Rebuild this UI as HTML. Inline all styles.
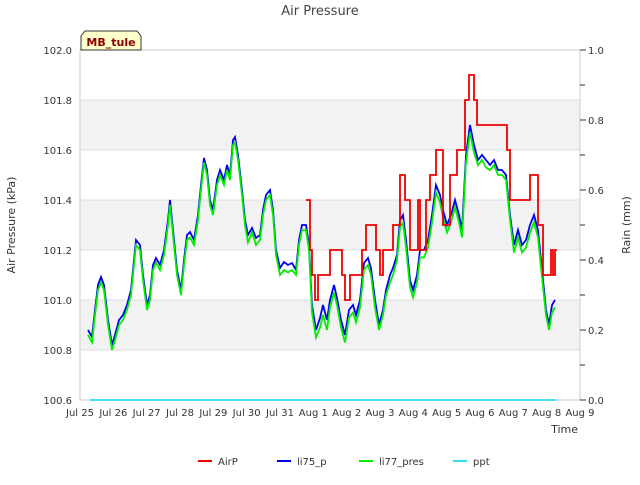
<!DOCTYPE html>
<html><head><meta charset="utf-8"><style>
body{margin:0;background:#fff;font-family:"Liberation Sans","DejaVu Sans",sans-serif;}
svg text{font-family:"DejaVu Sans","Liberation Sans",sans-serif;}
</style></head><body>
<svg id="chart" width="640" height="480" xmlns="http://www.w3.org/2000/svg">
<rect x="0" y="0" width="640" height="480" fill="#fff"/>
<g id="bands"></g>
<g id="grid"></g>
<rect x="80" y="50" width="500" height="350" fill="none" stroke="#ccc"/>
<g id="axes"></g>
<g id="series"></g>
<text x="320" y="15" text-anchor="middle" font-size="13" fill="#444">Air Pressure</text>
<text x="15" y="225" text-anchor="middle" font-size="11" fill="#333" transform="rotate(-90 15 225)">Air Pressure (kPa)</text>
<text x="630" y="225" text-anchor="middle" font-size="11" fill="#333" transform="rotate(-90 630 225)">Rain (mm)</text>
<text x="578" y="433" text-anchor="end" font-size="11" fill="#333">Time</text>
<g>
<path d="M81,50 L81,36 L85,31 L137,31 L141,36 L141,50 Z" fill="#ffffcc" stroke="#333"/>
<text x="111" y="46" text-anchor="middle" font-size="11" font-weight="bold" fill="#8b0000">MB_tule</text>
</g>
<g id="legend"></g>
</svg>
<script>
const xTickLabels=["Jul 25","Jul 26","Jul 27","Jul 28","Jul 29","Jul 30","Jul 31","Aug 1","Aug 2","Aug 3","Aug 4","Aug 5","Aug 6","Aug 7","Aug 8","Aug 9"];
const yTicks=[100.6,100.8,101.0,101.2,101.4,101.6,101.8,102.0];
const y2Ticks=[0.0,0.2,0.4,0.6,0.8,1.0];
const liT=[.24,.36,.45,.54,.63,.72,.84,.96,1.05,1.17,1.29,1.41,1.53,1.62,1.68,1.80,1.89,2.01,2.10,2.19,2.28,2.40,2.52,2.64,2.70,2.79,2.91,3.03,3.12,3.21,3.30,3.42,3.54,3.63,3.72,3.81,3.90,3.99,4.11,4.20,4.32,4.41,4.50,4.59,4.65,4.74,4.86,4.95,5.04,5.16,5.28,5.40,5.49,5.58,5.70,5.79,5.88,6.00,6.12,6.24,6.36,6.48,6.57,6.66,6.78,6.87,6.96,7.08,7.20,7.29,7.41,7.50,7.62,7.71,7.83,7.95,8.07,8.19,8.28,8.40,8.52,8.64,8.73,8.85,8.97,9.09,9.18,9.30,9.39,9.51,9.60,9.69,9.78,9.90,9.99,10.11,10.20,10.32,10.44,10.56,10.68,10.80,10.89,11.01,11.13,11.25,11.37,11.46,11.58,11.70,11.82,11.94,12.06,12.18,12.30,12.42,12.54,12.66,12.78,12.90,13.02,13.14,13.26,13.38,13.50,13.62,13.74,13.86,13.98,14.07,14.16,14.25];
const li75=[100.88,100.852,100.96,101.06,101.092,101.06,100.92,100.82,100.86,100.92,100.94,100.98,101.04,101.16,101.24,101.22,101.10,100.98,101.02,101.14,101.168,101.14,101.20,101.32,101.40,101.28,101.12,101.04,101.16,101.26,101.272,101.24,101.34,101.46,101.568,101.52,101.40,101.36,101.48,101.52,101.48,101.54,101.50,101.64,101.652,101.58,101.44,101.32,101.26,101.288,101.248,101.26,101.36,101.42,101.44,101.36,101.20,101.128,101.152,101.14,101.148,101.12,101.24,101.30,101.30,101.22,100.98,100.88,100.928,100.98,100.92,101.00,101.06,101.008,100.92,100.86,100.96,100.98,100.94,101.00,101.148,101.168,101.128,101.00,100.90,100.96,101.04,101.10,101.128,101.18,101.32,101.34,101.24,101.08,101.04,101.10,101.20,101.20,101.24,101.34,101.46,101.42,101.36,101.30,101.34,101.40,101.34,101.28,101.58,101.70,101.62,101.56,101.58,101.56,101.54,101.56,101.52,101.52,101.50,101.34,101.22,101.28,101.22,101.24,101.30,101.34,101.28,101.12,100.96,100.90,100.98,101.00];
const li77=[100.86,100.83,100.94,101.04,101.07,101.04,100.90,100.80,100.84,100.90,100.92,100.96,101.02,101.14,101.22,101.20,101.08,100.96,101.00,101.12,101.15,101.12,101.18,101.30,101.38,101.26,101.10,101.02,101.14,101.24,101.25,101.22,101.32,101.44,101.55,101.50,101.38,101.34,101.46,101.50,101.46,101.52,101.48,101.62,101.63,101.56,101.42,101.30,101.23,101.27,101.22,101.24,101.34,101.40,101.42,101.34,101.18,101.10,101.12,101.11,101.12,101.10,101.22,101.28,101.28,101.20,100.95,100.85,100.89,100.94,100.88,100.97,101.03,100.98,100.89,100.83,100.93,100.95,100.91,100.97,101.12,101.14,101.10,100.97,100.88,100.94,101.02,101.07,101.10,101.16,101.29,101.31,101.21,101.05,101.01,101.07,101.17,101.17,101.21,101.31,101.43,101.39,101.33,101.27,101.31,101.37,101.31,101.25,101.55,101.67,101.59,101.54,101.56,101.53,101.52,101.54,101.50,101.50,101.48,101.32,101.19,101.25,101.19,101.21,101.27,101.31,101.25,101.09,100.94,100.88,100.95,100.97];
const airT=[6.78,6.90,6.96,7.05,7.14,7.50,7.86,7.95,8.10,8.46,8.58,8.88,9.00,9.09,9.39,9.60,9.75,9.90,10.14,10.20,10.38,10.50,10.68,10.89,11.10,11.31,11.55,11.67,11.82,11.91,12.81,12.90,13.50,13.74,13.89,14.13,14.19,14.25,14.31];
const airV=[101.4,101.2,101.1,101.0,101.1,101.2,101.1,101.0,101.1,101.2,101.3,101.2,101.1,101.2,101.3,101.5,101.4,101.2,101.4,101.2,101.4,101.5,101.6,101.3,101.5,101.6,101.8,101.9,101.8,101.7,101.6,101.4,101.5,101.3,101.1,101.2,101.1,101.2,101.2];
const pptT=[0.3,14.3];
const pptV=[0,0];

const NS="http://www.w3.org/2000/svg";
const X=d=>80+d*(500/15);
const Y=v=>400-(v-100.6)*250;
const Y2=v=>400-v*350;
function mk(tag,attrs,parent){const e=document.createElementNS(NS,tag);for(const k in attrs)e.setAttribute(k,attrs[k]);parent.appendChild(e);return e;}
const bands=document.getElementById('bands'),grid=document.getElementById('grid'),axes=document.getElementById('axes'),series=document.getElementById('series'),legend=document.getElementById('legend');
[[100.8,101.0],[101.2,101.4],[101.6,101.8]].forEach(b=>{const r=mk('rect',{x:80,y:Y(b[1]),width:500,height:Y(b[0])-Y(b[1]),fill:'#f2f2f2'},bands);});
yTicks.forEach(v=>{const l=mk('line',{x1:80,x2:580,y1:Y(v),y2:Y(v),stroke:'#ddd'},grid);
const t=mk('text',{x:72,y:Y(v)+4,'text-anchor':'end','font-size':10,fill:'#333'},axes);t.textContent=v.toFixed(1);});
for(let i=0;i<=10;i++){const v=i/10;mk('line',{x1:580,x2:i%2?585:586,y1:Y2(v),y2:Y2(v),stroke:'#333'},axes);}
y2Ticks.forEach(v=>{const t=mk('text',{x:588,y:Y2(v)+4,'font-size':10,fill:'#333'},axes);t.textContent=v.toFixed(1);});
xTickLabels.forEach((s,i)=>{const t=mk('text',{x:X(i),y:416,'text-anchor':'middle','font-size':10,fill:'#333'},axes);t.textContent=s;});
function line(ts,vs,yf,color,name,step){let d='';ts.forEach((t,i)=>{const x=X(t),y=yf(vs[i]);if(i===0)d='M'+x+','+y;else{if(step)d+=' L'+x+','+yf(vs[i-1]);d+=' L'+x+','+y;}});const p=mk('path',{d:d,fill:'none',stroke:color,'stroke-width':1.8},series);}
line(pptT,pptV,Y2,'#33ddee','ppt-line',false);
line(liT,li75,Y,'#0000ee','li75-p-line',false);
line(liT,li77,Y,'#00ee00','li77-pres-line',false);
line(airT,airV,Y,'#ee0000','airp-line',true);
[['AirP','#ee0000',198],['li75_p','#0000ee',277],['li77_pres','#00ee00',359],['ppt','#33ddee',453]].forEach(e=>{const g=mk('g',{},legend);mk('line',{x1:e[2],x2:e[2]+14,y1:461,y2:461,stroke:e[1],'stroke-width':2},g);const t=mk('text',{x:e[2]+20,y:465,'font-size':10,fill:'#333'},g);t.textContent=e[0];});
</script>
</body></html>
